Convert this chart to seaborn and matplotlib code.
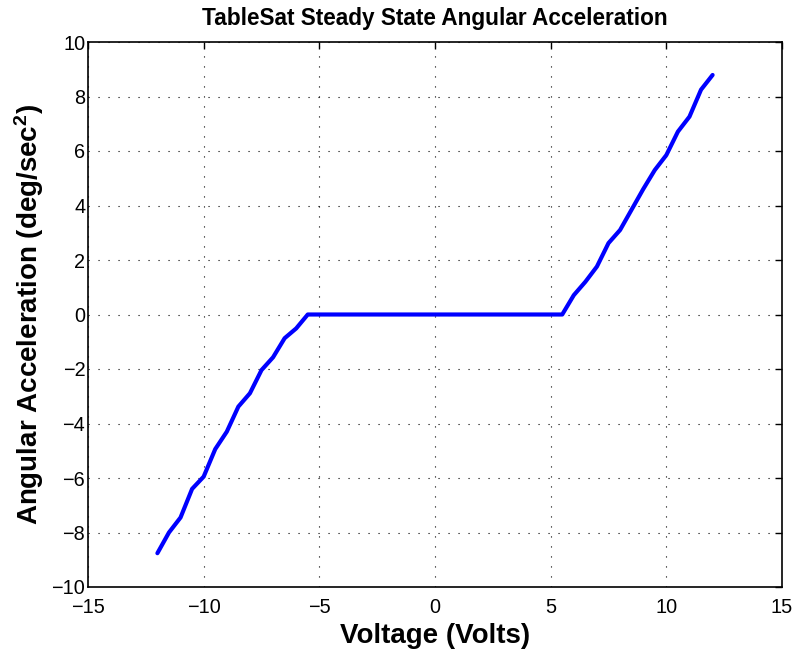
import numpy as np
import pandas as pd
import matplotlib
matplotlib.use("Agg")
import matplotlib.pyplot as plt
import seaborn as sns

voltage = [-12.0, -11.5, -11.0, -10.5, -10.0, -9.5, -9.0, -8.5, -8.0, -7.5, -7.0, -6.5, -6.0, -5.5,
           -5.0, -4.5, -4.0, -3.5, -3.0, -2.5, -2.0, -1.5, -1.0, -0.5, 0.0, 0.5, 1.0, 1.5, 2.0, 2.5,
           3.0, 3.5, 4.0, 4.5, 5.0, 5.5, 6.0, 6.5, 7.0, 7.5, 8.0, 8.5, 9.0, 9.5, 10.0, 10.5, 11.0,
           11.5, 12.0]
accel = [-8.76, -8.0, -7.45, -6.40, -5.95, -4.94, -4.30, -3.38, -2.89, -2.04, -1.57, -0.87, -0.51, 0.0,
         0.0, 0.0, 0.0, 0.0, 0.0, 0.0, 0.0, 0.0, 0.0, 0.0, 0.0, 0.0, 0.0, 0.0, 0.0, 0.0,
         0.0, 0.0, 0.0, 0.0, 0.0, 0.0, 0.71, 1.20, 1.76, 2.62, 3.10, 3.85, 4.60, 5.30, 5.85, 6.71, 7.26,
         8.25, 8.79]

xticks = [-15, -10, -5, 0, 5, 10, 15]
yticks = [-10, -8, -6, -4, -2, 0, 2, 4, 6, 8, 10]

sns.set_style("white")
plt.rcParams['font.family'] = ['Liberation Sans', 'DejaVu Sans']
plt.rcParams['text.color'] = 'black'
plt.rcParams['axes.labelcolor'] = 'black'
plt.rcParams['xtick.color'] = 'black'
plt.rcParams['ytick.color'] = 'black'
plt.rcParams['mathtext.fontset'] = 'custom'
plt.rcParams['mathtext.rm'] = 'Liberation Sans:bold'
plt.rcParams['mathtext.bf'] = 'Liberation Sans:bold'
plt.rcParams['mathtext.default'] = 'bf'

df = pd.DataFrame({"Voltage": voltage, "Accel": accel})

fig = plt.figure(figsize=(7.98, 6.51), dpi=100)
ax = fig.add_axes([88 / 798, (651 - 587) / 651, (782 - 88) / 798, (587 - 42) / 651])

sns.lineplot(data=df, x="Voltage", y="Accel", ax=ax, color=(0, 0, 1), linewidth=3, sort=False)

ax.set_xlim(-15, 15)
ax.set_ylim(-10, 10)
ax.set_xticks(xticks)
ax.set_yticks(yticks)
ax.grid(True, color='black', linestyle=(0, (1, 8)), linewidth=0.8)
ax.set_axisbelow(True)
for s in ax.spines.values():
    s.set_visible(True)
    s.set_color('black')
    s.set_linewidth(1.2)
ax.tick_params(direction='in', length=5, width=1, top=True, right=True,
               labelsize=14.3, colors='black')
ax.tick_params(axis='x', pad=8)
ax.tick_params(axis='y', pad=2)

ax.set_title("TableSat Steady State Angular Acceleration", fontsize=16.3, fontweight='bold', pad=12)
ax.set_xlabel("Voltage (Volts)", fontsize=20, fontweight='bold', labelpad=4)
ax.set_ylabel(r"Angular Acceleration (deg/sec$^{2}$)", fontsize=20, fontweight='bold', labelpad=4)

fig.savefig("out.png", dpi=100)
